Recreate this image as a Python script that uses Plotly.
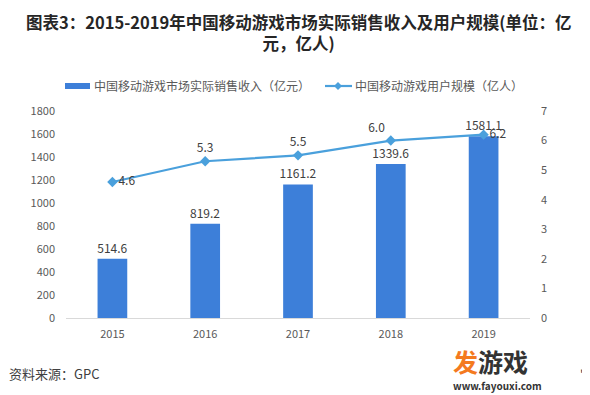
import plotly.graph_objects as go

# ---- data ----
years = ["2015", "2016", "2017", "2018", "2019"]
revenue = [514.6, 819.2, 1161.2, 1339.6, 1581.1]
users = [4.6, 5.3, 5.5, 6.0, 6.2]
user_label_pos = ["middle right", "top center", "top center", "top left", "middle right"]

title_line1 = "图表3：2015-2019年中国移动游戏市场实际销售收入及用户规模(单位：亿"
title_line2 = "元，亿人)"
bar_name = "中国移动游戏市场实际销售收入（亿元）"
line_name = "中国移动游戏用户规模（亿人）"
source_text = "资料来源：GPC"

font_family = "Microsoft YaHei, Noto Sans CJK SC, sans-serif"
BAR_COLOR = "#3d7fd9"
LINE_COLOR = "#4aa0dc"

# ---- geometry (figure drawn inside page body, offset 8px) ----
OFF = 8
FIG_W, FIG_H = 582, 387
L, R, T, B = 58, 60, 103, 77
PW = FIG_W - L - R
PH = FIG_H - T - B


def px(wx):
    return (wx - OFF - L) / PW


def py(wy):
    return (FIG_H - B - (wy - OFF)) / PH


fig = go.Figure()
fig.add_trace(go.Bar(
    x=years, y=revenue, name=bar_name,
    marker=dict(color=BAR_COLOR, line=dict(width=0)),
    text=[f"{v:.1f}" for v in revenue], textposition="outside",
    constraintext="none",
    textfont=dict(size=12, color="#404040"),
    cliponaxis=False, yaxis="y",
))
fig.add_trace(go.Scatter(
    x=years, y=users, name=line_name, mode="lines+markers+text",
    line=dict(color=LINE_COLOR, width=2.2),
    marker=dict(symbol="diamond", size=8, color=LINE_COLOR),
    text=[f"{v:.1f}" for v in users], textposition=user_label_pos,
    textfont=dict(size=12, color="#404040"),
    cliponaxis=False, yaxis="y2",
))

# manual legend
dx = 4 / PW
dy = 4 / PH
lx, ly = px(338), py(86)
shapes = [
    dict(type="rect", xref="paper", yref="paper", x0=px(65), x1=px(90),
         y0=py(89), y1=py(83), fillcolor=BAR_COLOR, line=dict(width=0)),
    dict(type="line", xref="paper", yref="paper", x0=px(325), x1=px(352),
         y0=ly, y1=ly, line=dict(color=LINE_COLOR, width=2.2)),
    dict(type="path", xref="paper", yref="paper",
         path=f"M {lx-dx},{ly} L {lx},{ly+dy} L {lx+dx},{ly} L {lx},{ly-dy} Z",
         fillcolor=LINE_COLOR, line=dict(width=0)),
]

annotations = [
    dict(text=f"<b>{title_line1}<br>{title_line2}</b>", x=px(298), y=py(32),
         xanchor="center", align="center",
         font=dict(size=16.5, color="#262626")),
    dict(text=bar_name, x=px(92), y=py(86), xanchor="left",
         font=dict(size=12, color="#595959")),
    dict(text=line_name, x=px(353), y=py(86), xanchor="left",
         font=dict(size=12, color="#595959")),
    dict(text=source_text, x=px(7), y=py(373), xanchor="left",
         font=dict(size=13, color="#404040")),
    dict(text="<b><span style='color:#f47a1f'>发</span>游戏</b>", x=px(451), y=py(361),
         xanchor="left", font=dict(size=25, color="#333333")),
    dict(text="<b>www.fayouxi.com</b>", x=px(451), y=py(385), xanchor="left",
         font=dict(size=10, color="#333333")),
    dict(text="'P", x=px(578), y=py(373), xanchor="left",
         font=dict(size=12, color="#404040")),
]
for a in annotations:
    a.update(xref="paper", yref="paper", yanchor="middle", showarrow=False)

fig.update_layout(
    width=FIG_W, height=FIG_H,
    margin=dict(l=L, r=R, t=T, b=B, pad=0),
    paper_bgcolor="white", plot_bgcolor="white",
    font=dict(family=font_family, color="#595959"),
    bargap=0.68,
    showlegend=False,
    xaxis=dict(showgrid=False, showline=True, linecolor="#d9d9d9", linewidth=1,
               ticks="", tickfont=dict(size=11, color="#595959"),
               ticklabelstandoff=6),
    yaxis=dict(range=[0, 1800], dtick=200, showgrid=False, zeroline=False,
               showline=False, ticks="", tickfont=dict(size=11, color="#595959"),
               ticklabelstandoff=10),
    yaxis2=dict(range=[0, 7], dtick=1, overlaying="y", side="right", showgrid=False,
                zeroline=False, showline=False, ticks="",
                tickfont=dict(size=11, color="#595959"), ticklabelstandoff=10),
    shapes=shapes,
    annotations=annotations,
)

fig.write_html("out.html")
